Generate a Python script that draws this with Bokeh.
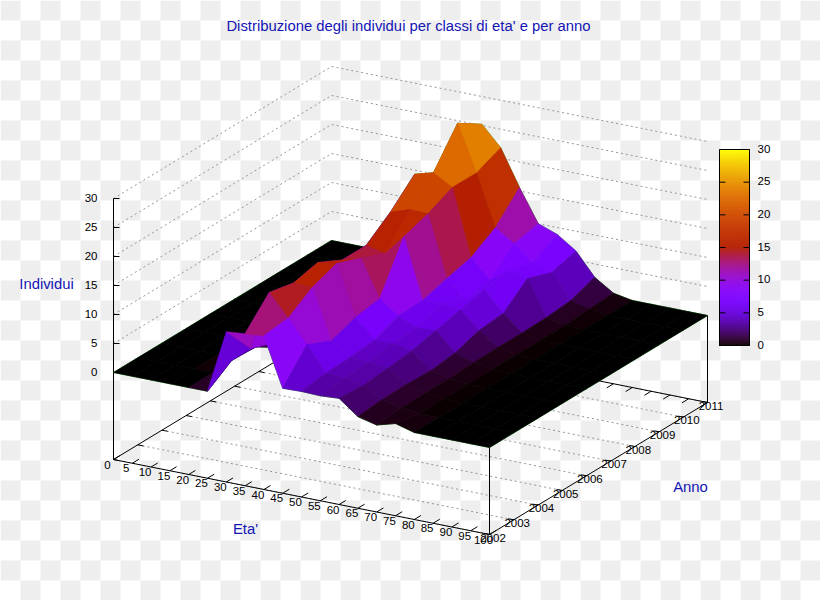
import numpy as np
from bokeh.plotting import figure
from bokeh.models import Range1d, ColumnDataSource
from bokeh.core.properties import value
from bokeh.embed import file_html
from bokeh.resources import INLINE

TITLE = "Distribuzione degli individui per classi di eta' e per anno"
AGES = list(range(0, 105, 5))
YEARS = list(range(2002, 2012))
Z_TICKS = [0, 5, 10, 15, 20, 25, 30]

Z2002 = [0,0,0,0,0, 0,10.9,11.2,11.5,3.1, 3.2,3.1,3.3,0.8,0, 0.9,0,0,0,0,0]
Z2003 = [0,0,0,0,0, 2.8,5.5,15.8,12,8.1, 3.8,3.5,3,1.2,0.4, 0.1,0,0,0,0,0]
Z2004 = [0,0,0,0,0.5, 2.6,4,14.9,14.8,6.2, 4,3.8,3.4,1.3,0.4, 0.1,0,0,0,0,0]
Z2005 = [0,0,0,0,0, 0,0,15.9,16.4,7.7, 4.4,4.5,3.9,1.1,0.4, 0.1,0,0,0,0,0]
Z2006 = [0,0,0,0,0, 0,0,13.8,14.8,8.4, 6.1,4.7,4.9,1.6,0.6, 0.1,0,0,0,0,0]
Z2007 = [0,0,0,0,0, 0,0,13.8,13,16.6, 6.3,6.3,5.9,3,0.7, 0.1,0,0,0,0,0]
Z2008 = [0,0,0,0,0, 0,0,17,18.1,18, 7.5,4.5,6.9,3.4,0.7, 0.1,0,0,0,0,0]
Z2009 = [0,0,0,0,0, 0,0,21,21.9,20, 8.6,5.3,7.6,6.9,0.8, 0.1,0,0,0,0,0]
Z2010 = [0,0,0,0,0, 0,0,15,27.9,20, 11.2,9.1,6.5,5.4,1.2, 0.4,0,0,0,0,0]
Z2011 = [0,0,0,0,0, 0,0,15,25.2,21.8, 15.6,10,8.8,6.6,2.7, 0.6,0,0,0,0,0]
SURFACE = [Z2002, Z2003, Z2004, Z2005, Z2006, Z2007, Z2008, Z2009, Z2010, Z2011]

BLUE = "#1414b4"
GRID = "#959595"
FONT = "Liberation Sans"

# projection of (age, year, z) to the picture
def proj(age, year, z, base=False):
    a = age / 100.0
    y = (year - 2002) / 9.0
    sx = 113 + 376 * a + 218 * y
    sy = 372 + 75 * a - 132 * y - 5.8 * z
    if base:
        sy += 87
    return sx, sy

def color(v):
    x = min(max(v / 30.0, 0), 1)
    r = np.sqrt(x)
    g = x ** 3
    b = max(np.sin(2 * np.pi * x), 0)
    return "#%02x%02x%02x" % (int(r * 255), int(g * 255), int(b * 255))

p = figure(width=820, height=600, x_range=Range1d(0, 820), y_range=Range1d(600, 0),
           x_axis_location=None, y_axis_location=None, toolbar_location=None,
           output_backend="svg", min_border=0, outline_line_color=None,
           background_fill_color="white", border_fill_color="white")
p.grid.visible = False

# checkered page
cx0, cx1, cy0, cy1 = [], [], [], []
for ix in range(0, 41):
    for iy in range(0, 30):
        if (ix + iy) % 2 == 0:
            cx0.append(ix * 20); cx1.append(ix * 20 + 20)
            cy0.append(iy * 20); cy1.append(iy * 20 + 20)
p.quad(left=cx0, right=cx1, top=cy0, bottom=cy1, fill_color="#eeeeee", line_color=None)

def seg(pts, **kw):
    p.line([q[0] for q in pts], [q[1] for q in pts], **kw)

A0, A1, Y0, Y1 = AGES[0], AGES[-1], YEARS[0], YEARS[-1]

# walls' grid at the z ticks
for z in Z_TICKS:
    seg([proj(A0, Y0, z), proj(A0, Y1, z), proj(A1, Y1, z)],
        line_color=GRID, line_width=1, line_dash="2 3")
# floor's grid at the years
for y in YEARS:
    seg([proj(A0, y, 0, True), proj(A1, y, 0, True)],
        line_color=GRID, line_width=1, line_dash="2 3")

# floor border
seg([proj(A0, Y0, 0, True), proj(A1, Y0, 0, True), proj(A1, Y1, 0, True),
     proj(A0, Y1, 0, True), proj(A0, Y0, 0, True)], line_color="black", line_width=1)
# age ticks, both edges
for a in AGES:
    s = proj(a, Y0, 0, True); e = proj(a, Y0 + 2.2, 0, True)
    e = (s[0] + (e[0] - s[0]) * 0.125, s[1] + (e[1] - s[1]) * 0.125)
    seg([s, e], line_color="black", line_width=1)
    s = proj(a, Y1, 0, True); e = proj(a, Y1 - 2.2, 0, True)
    e = (s[0] + (e[0] - s[0]) * 0.125, s[1] + (e[1] - s[1]) * 0.125)
    seg([s, e], line_color="black", line_width=1)
# year ticks, both edges
for y in YEARS:
    s = proj(A0, y, 0, True); e = proj(A0 + 1.5, y, 0, True)
    seg([s, e], line_color="black", line_width=1)
    s = proj(A1, y, 0, True); e = proj(A1 - 1.5, y, 0, True)
    seg([s, e], line_color="black", line_width=1)

# z axis
seg([proj(A0, Y0, 30), proj(A0, Y0, 0, True)], line_color="black", line_width=1)
for z in Z_TICKS[1:]:
    sx, sy = proj(A0, Y0, z)
    seg([(sx, sy), (sx + 6, sy)], line_color="black", line_width=1)
# vertical edges
seg([proj(A1, Y0, 0), proj(A1, Y0, 0, True)], line_color="black", line_width=1)
seg([proj(A1, Y1, 0), proj(A1, Y1, 0, True)], line_color="black", line_width=1)

# green mesh under the surface
mx, my = [], []
for j, y in enumerate(YEARS):
    pts = [proj(a, y, SURFACE[j][i]) for i, a in enumerate(AGES)]
    mx.append([q[0] for q in pts]); my.append([q[1] for q in pts])
for i, a in enumerate(AGES):
    pts = [proj(a, y, SURFACE[j][i]) for j, y in enumerate(YEARS)]
    mx.append([q[0] for q in pts]); my.append([q[1] for q in pts])
p.multi_line(mx, my, line_color="#30a030", line_width=1)

# surface: far cells first
cells = []
for j in range(len(YEARS) - 1):
    for i in range(len(AGES) - 1):
        corners = [(i, j), (i + 1, j), (i + 1, j + 1), (i, j + 1)]
        zs = [SURFACE[c[1]][c[0]] for c in corners]
        pts = [proj(AGES[c[0]], YEARS[c[1]], SURFACE[c[1]][c[0]]) for c in corners]
        depth = proj(AGES[i] + 2.5, YEARS[j] + 0.5, 0)[1]
        cells.append((depth, [q[0] for q in pts], [q[1] for q in pts], color(sum(zs) / 4)))
cells.sort(key=lambda c: c[0])
src = ColumnDataSource(dict(xs=[c[1] for c in cells], ys=[c[2] for c in cells],
                            col=[c[3] for c in cells]))
p.patches("xs", "ys", source=src, fill_color="col", line_color="col", line_width=0.6)

def label(x, y, t, size="11.5px", col="black", align="center"):
    p.text([x], [y - 1], text=[t], text_font=value(FONT), text_font_size=value(size),
           text_color=col, text_align=align, text_baseline="middle")

# tick labels
for z in Z_TICKS:
    sx, sy = proj(A0, Y0, z)
    label(sx - 16, sy, str(z), align="right")
for a in AGES:
    sx, sy = proj(a, Y0, 0, True)
    label(sx - 6, sy + 6, str(a))
for y in YEARS:
    sx, sy = proj(A1, y, 0, True)
    label(sx + 3.5, sy + 4, str(y))

# titles
label(408, 26, TITLE, size="14.85px", col=BLUE)
label(46, 284, "Individui", size="14.85px", col=BLUE)
label(245, 529, "Eta'", size="14.85px", col=BLUE)
label(690, 487, "Anno", size="14.85px", col=BLUE)

# colour box
CB_L, CB_R, CB_T, CB_B = 719, 749, 149, 345
def cb_y(v):
    return CB_B - (CB_B - CB_T) * v / 30.0
levels = np.linspace(0, 30, 197)
cb_cols = [color(v) for v in levels[:-1]]
p.quad(left=CB_L, right=CB_R, top=[cb_y(v) for v in levels[1:]],
       bottom=[cb_y(v) for v in levels[:-1]],
       fill_color=cb_cols, line_color=cb_cols, line_width=0.6)
seg([(CB_L, CB_T), (CB_R, CB_T), (CB_R, CB_B), (CB_L, CB_B), (CB_L, CB_T)],
    line_color="black", line_width=1)
for z in Z_TICKS:
    y_ = cb_y(z)
    seg([(CB_L, y_), (CB_L + 6, y_)], line_color="black", line_width=1)
    seg([(CB_R - 6, y_), (CB_R, y_)], line_color="black", line_width=1)
    label(757, y_, str(z), align="left")

open("out.html", "w").write(file_html(p, INLINE))
